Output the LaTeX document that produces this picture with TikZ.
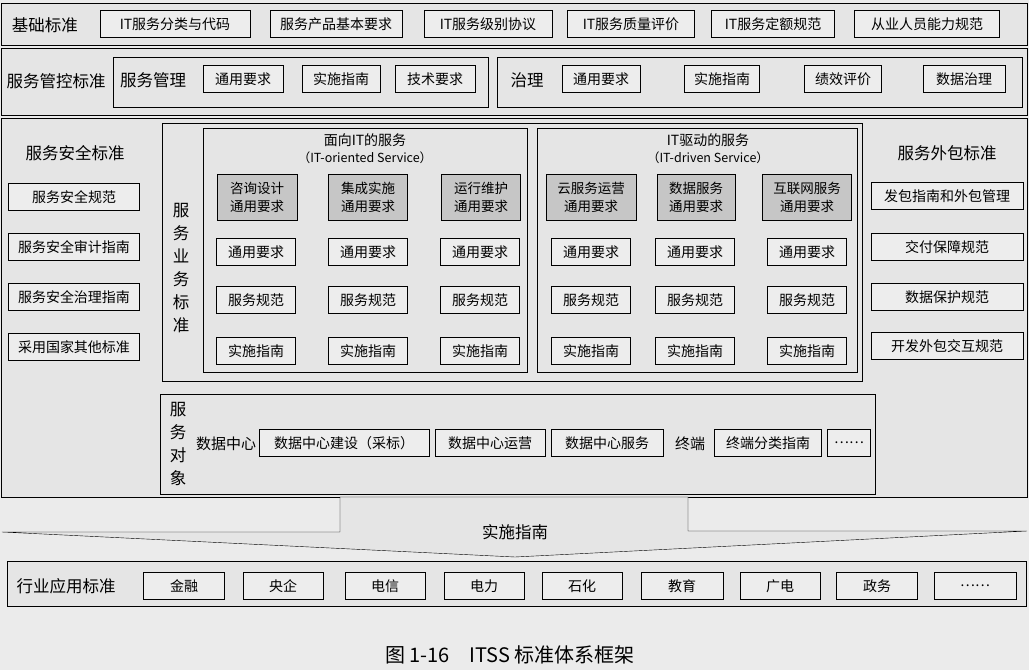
\documentclass[tikz,border=0pt]{standalone}
\usepackage{fontspec}
\setmainfont{Noto Sans CJK SC}
\begin{document}
\begin{tikzpicture}[x=1pt,y=-1pt]
  \tikzset{ bx/.style={draw,fill=gray!14,inner sep=0pt,minimum height=27pt,font=\fontsize{14}{16}\selectfont},
    gb/.style={draw,fill=gray!45,inner sep=0pt,minimum height=46pt,align=center,font=\fontsize{13.5}{18}\selectfont},
    lb/.style={inner sep=0pt,font=\fontsize{16.5}{18}\selectfont},
    vt/.style={inner sep=0pt,align=center,font=\fontsize{16.5}{23}\selectfont},
    fr/.style={draw,fill=gray!20},
  }
  \useasboundingbox (0,0) rectangle (1029,670);
  \fill[gray!16] (0,0) rectangle (1029,670);

  % basic standards
  \draw[fr] (1,3) rectangle (1027,45);
  \node[lb] (jc) at (45,25) {基础标准};
  \node[bx,minimum width=150pt] (j1) at (175,24) {IT服务分类与代码};
  \node[bx,minimum width=132pt] (j2) at (336,24) {服务产品基本要求};
  \node[bx,minimum width=128pt] (j3) at (488,24) {IT服务级别协议};
  \node[bx,minimum width=127pt] (j4) at (631,24) {IT服务质量评价};
  \node[bx,minimum width=123pt] (j5) at (773,24) {IT服务定额规范};
  \node[bx,minimum width=145pt] (j6) at (927,24) {从业人员能力规范};

  % management and control
  \draw[fr] (1,48) rectangle (1027,115);
  \node[lb] (gk) at (56,81) {服务管控标准};
  \draw (113,57) rectangle (488,107);
  \node[lb] (fg) at (153,80) {服务管理};
  \node[bx,minimum width=80pt] (fg1) at (243,79) {通用要求};
  \node[bx,minimum width=78pt] (fg2) at (341,79) {实施指南};
  \node[bx,minimum width=80pt] (fg3) at (435,79) {技术要求};
  \draw (497,57) rectangle (1022,107);
  \node[lb] (zl) at (527,80) {治理};
  \node[bx,minimum width=78pt] (zl1) at (601,79) {通用要求};
  \node[bx,minimum width=75pt] (zl2) at (722,79) {实施指南};
  \node[bx,minimum width=77pt] (zl3) at (843,79) {绩效评价};
  \node[bx,minimum width=82pt] (zl4) at (964,79) {数据治理};

  % main block
  \draw[fr] (1,118) rectangle (1027,497);
  \node[lb] (aq) at (75,153) {服务安全标准};
  \node[bx,minimum width=131pt] (aq1) at (74,197) {服务安全规范};
  \node[bx,minimum width=131pt] (aq2) at (74,247) {服务安全审计指南};
  \node[bx,minimum width=131pt] (aq3) at (74,297) {服务安全治理指南};
  \node[bx,minimum width=131pt] (aq4) at (74,347) {采用国家其他标准};

  \node[lb] (wb) at (947,153) {服务外包标准};
  \node[bx,minimum width=152pt] (wb1) at (947,196) {发包指南和外包管理};
  \node[bx,minimum width=152pt] (wb2) at (947,247) {交付保障规范};
  \node[bx,minimum width=152pt] (wb3) at (947,297) {数据保护规范};
  \node[bx,minimum width=152pt] (wb4) at (947,346) {开发外包交互规范};

  % business standards
  \draw (162,123) rectangle (862,381);
  \node[vt] (yw) at (181,268) {服\\务\\业\\务\\标\\准};
  \draw (203,128) rectangle (527,372);
  \node[inner sep=0pt,font=\fontsize{14}{16}\selectfont] (mx) at (365,140) {面向IT的服务};
  \node[inner sep=0pt,font=\fontsize{12.5}{14}\selectfont] (mxe) at (365,158) {（IT-oriented Service）};
  \draw (537,128) rectangle (857,372);
  \node[inner sep=0pt,font=\fontsize{14}{16}\selectfont] (qd) at (708,140) {IT驱动的服务};
  \node[inner sep=0pt,font=\fontsize{12.5}{14}\selectfont] (qde) at (708,158) {（IT-driven Service）};

  \node[gb,minimum width=80pt] (g1) at (257,197) {咨询设计\\通用要求};
  \node[gb,minimum width=79pt] (g2) at (368,197) {集成实施\\通用要求};
  \node[gb,minimum width=79pt] (g3) at (481,197) {运行维护\\通用要求};
  \node[gb,minimum width=90pt] (g4) at (591,197) {云服务运营\\通用要求};
  \node[gb,minimum width=78pt] (g5) at (696,197) {数据服务\\通用要求};
  \node[gb,minimum width=89pt] (g6) at (807,197) {互联网服务\\通用要求};
  \foreach \x/\n in {256/1,368/2,480/3,591/4,695/5,807/6} {
    \node[bx,minimum width=79pt] (ty\n) at (\x,252) {通用要求};
    \node[bx,minimum width=79pt] (gf\n) at (\x,300) {服务规范};
    \node[bx,minimum width=79pt] (ss\n) at (\x,351) {实施指南};
  }

  % service objects
  \draw (160,394) rectangle (875,494);
  \node[vt] (dx) at (178,444) {服\\务\\对\\象};
  \node[inner sep=0pt,font=\fontsize{15}{17}\selectfont] (sj) at (226,444) {数据中心};
  \node[bx,minimum width=170pt] (sj1) at (344,443) {数据中心建设（采标）};
  \node[bx,minimum width=110pt] (sj2) at (490,443) {数据中心运营};
  \node[bx,minimum width=112pt] (sj3) at (607,443) {数据中心服务};
  \node[inner sep=0pt,font=\fontsize{15}{17}\selectfont] (zd) at (690,444) {终端};
  \node[bx,minimum width=107pt] (zd1) at (768,443) {终端分类指南};
  \node[bx,minimum width=43pt] (zd2) at (849,443) {……};

  % implementation guide arrow
  \draw[fill=gray!20] (340,497) -- (688,497) -- (688,531) -- (1027,531)
    -- (515,557) -- (2,532) -- (340,532) -- cycle;
  \node[lb] (zn) at (515,532) {实施指南};

  % industry standards
  \draw[fr] (7,561) rectangle (1026,606);
  \node[lb] (hy) at (66,586) {行业应用标准};
  \node[bx,minimum width=81pt] (hy1) at (184,586) {金融};
  \node[bx,minimum width=80pt] (hy2) at (283,586) {央企};
  \node[bx,minimum width=80pt] (hy3) at (385,586) {电信};
  \node[bx,minimum width=80pt] (hy4) at (484,586) {电力};
  \node[bx,minimum width=80pt] (hy5) at (582,586) {石化};
  \node[bx,minimum width=82pt] (hy6) at (682,586) {教育};
  \node[bx,minimum width=80pt] (hy7) at (780,586) {广电};
  \node[bx,minimum width=81pt] (hy8) at (877,586) {政务};
  \node[bx,minimum width=82pt] (hy9) at (975,586) {……};

  \node[inner sep=0pt,font=\fontsize{20}{22}\selectfont] (cap) at (510,655) {图 1-16\quad ITSS 标准体系框架};
\end{tikzpicture}
\end{document}
